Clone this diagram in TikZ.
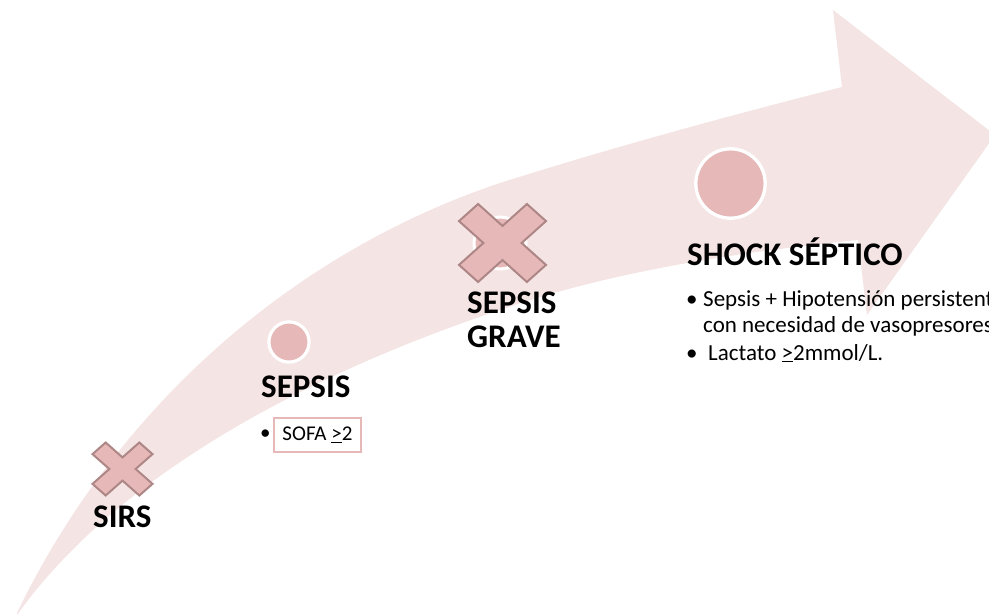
\documentclass[tikz,border=0pt]{standalone}
\usepackage{fontspec}
\setmainfont{Carlito}
\definecolor{arrowpink}{HTML}{F5E4E4}
\definecolor{dotpink}{HTML}{E6B8B8}
\definecolor{crossline}{HTML}{AD8686}
\tikzset{
  arrowbody/.style={fill=arrowpink, draw=none},
  dot/.style={circle, fill=dotpink, draw=white},
  crossshape/.style={fill=dotpink, draw=crossline, line width=2pt, line join=miter},
  xcross/.pic={
    \path[crossshape, rotate=45]
      (0.31,1.104) -- (0.31,0.31) -- (1.104,0.31) -- (1.104,-0.31) -- (0.31,-0.31) -- (0.31,-1.104)
      -- (-0.31,-1.104) -- (-0.31,-0.31) -- (-1.104,-0.31) -- (-1.104,0.31) -- (-0.31,0.31) -- (-0.31,1.104) -- cycle;
  },
  heading/.style={font=\fontsize{33}{40}\selectfont\bfseries, inner sep=0pt, anchor=base west},
  body/.style={font=\fontsize{23}{28}\selectfont, inner sep=0pt, anchor=base west},
  sofabox/.style={draw=dotpink, line width=2pt, fill=white, font=\fontsize{21}{25}\selectfont, anchor=north west, minimum width=87pt, minimum height=34pt, inner sep=0pt}
}
\begin{document}
\begin{tikzpicture}[x=1pt,y=-1pt]
\useasboundingbox (0,0) rectangle (989,616);
\clip (0,0) rectangle (989,616);
\fill[white] (0,0) rectangle (989,616);
% swoosh arrow
\path[arrowbody] (17,613) .. controls (120,400) and (300,250) .. (500,183)
  .. controls (620,145) and (740,113) .. (842,87) -- (833,10) -- (995,135) -- (867,315) -- (858,240)
  .. controls (760,250) and (620,268) .. (500,310)
  .. controls (320,370) and (120,470) .. (17,615) -- cycle;
% circles
\node[dot, minimum size=40.2pt, line width=3.2pt, inner sep=0pt] (c1) at (289,342) {};
\node[dot, minimum size=52pt, line width=3pt, inner sep=0pt] (c2) at (500,243) {};
\node[dot, minimum size=69.4pt, line width=3.3pt, inner sep=0pt] (c3) at (730.5,183.5) {};
% crosses
\pic[xscale=30, yscale=26.5] at (122.5,469) {xcross};
\pic[xscale=43.5, yscale=39] at (502.5,243) {xcross};
% headings
\node[heading] (sirs) at (93,527) {SIRS};
\node[heading] (sepsis) at (261,397) {SEPSIS};
\node[heading] (grave1) at (467,313) {SEPSIS};
\node[heading] (grave2) at (467,347) {GRAVE};
\node[heading] (shock) at (687,265) {SHOCK SÉPTICO};
% sepsis bullet
\node[body, font=\fontsize{21}{25}\selectfont] (b0) at (260,439) {•};
\node[sofabox] (sofa) at (273,417) {SOFA \underline{>}2};
% shock bullets
\node[body] (b1) at (686,306) {•};
\node[body] (t1) at (703,306) {Sepsis + Hipotensión persistente};
\node[body] (t2) at (703,332) {con necesidad de vasopresores.};
\node[body] (b2) at (686,360) {•};
\node[body] (t3) at (708,360) {Lactato \underline{>}2mmol/L.};
\end{tikzpicture}
\end{document}
